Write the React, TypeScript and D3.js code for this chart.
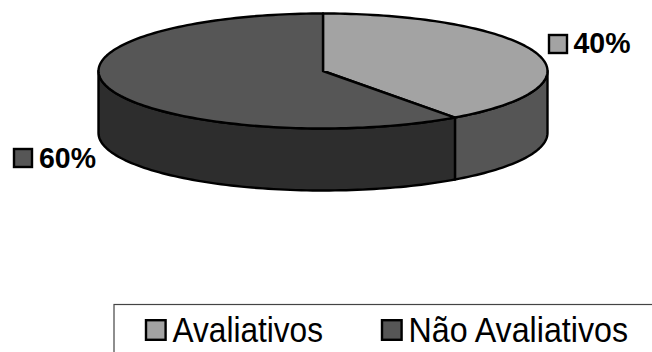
import React from "react";
import * as d3 from "d3";

const categories = ["Avaliativos", "Não Avaliativos"];
const shares = [40, 60];
const topColors = ["#a3a3a3", "#565656"];
const wallColors = ["#555555", "#2d2d2d"];

const cx = 323;
const cy = 71;
const rx = 224.5;
const ry = 57.5;
const depth = 62;
const font = "'Liberation Sans', Arial, sans-serif";

const slices = d3.pie<number>().sort(null)(shares);
const rimX = d3.scaleLinear().domain([-1, 1]).range([cx - rx, cx + rx]);
const rimY = d3.scaleLinear().domain([-1, 1]).range([cy - ry, cy + ry]);
const pathOf = d3.line<[number, number]>();

// Points along the rim between two pie angles, lowered by an optional offset.
function rim(a0: number, a1: number, dy = 0): [number, number][] {
  const steps = Math.max(2, Math.ceil(Math.abs(a1 - a0) * 40));
  return d3.range(steps + 1).map((i) => {
    const a = a0 + ((a1 - a0) * i) / steps;
    return [rimX(Math.sin(a)), rimY(-Math.cos(a)) + dy] as [number, number];
  });
}

function topPath(a0: number, a1: number): string {
  return pathOf([[cx, cy], ...rim(a0, a1)])! + "Z";
}

// Side wall: only the part of the rim facing the viewer (PI/2 to 3PI/2).
function wallPath(a0: number, a1: number): string | null {
  const s = Math.max(a0, Math.PI / 2);
  const e = Math.min(a1, (3 * Math.PI) / 2);
  if (e <= s) return null;
  return pathOf([...rim(s, e), ...rim(e, s, depth)])! + "Z";
}

function Swatch({ x, y, size, fill }: { x: number; y: number; size: number; fill: string }) {
  return <rect x={x} y={y} width={size} height={size} fill={fill} stroke="#000" strokeWidth={2.4} />;
}

export default function App() {
  return (
    <svg
      width={652}
      height={352}
      style={{ position: "fixed", left: 0, top: 0, background: "#fff" }}
    >
      {slices.map((s, i) => {
        const d = wallPath(s.startAngle, s.endAngle);
        return d ? (
          <path key={i} d={d} fill={wallColors[i]} stroke="#000" strokeWidth={2.4} strokeLinejoin="round" />
        ) : null;
      })}
      {slices.map((s, i) => (
        <path
          key={i}
          d={topPath(s.startAngle, s.endAngle)}
          fill={topColors[i]}
          stroke="#000"
          strokeWidth={2.4}
          strokeLinejoin="round"
        />
      ))}

      <Swatch x={549} y={35} size={18} fill={topColors[0]} />
      <text
        x={573.5}
        y={53}
        fontFamily={font}
        fontWeight="bold"
        fontSize={30}
        fill="#000"
        textLength={57}
        lengthAdjust="spacingAndGlyphs"
      >
        {shares[0]}%
      </text>
      <Swatch x={14} y={149} size={18} fill={topColors[1]} />
      <text
        x={39}
        y={167.5}
        fontFamily={font}
        fontWeight="bold"
        fontSize={30}
        fill="#000"
        textLength={57}
        lengthAdjust="spacingAndGlyphs"
      >
        {shares[1]}%
      </text>

      <rect x={114} y={304.5} width={600} height={80} fill="#fff" stroke="#444" strokeWidth={1.2} />
      <Swatch x={146} y={320.2} size={19.6} fill={topColors[0]} />
      <text
        x={172.5}
        y={342}
        fontFamily={font}
        fontSize={35}
        fill="#000"
        textLength={150.5}
        lengthAdjust="spacingAndGlyphs"
      >
        {categories[0]}
      </text>
      <Swatch x={382} y={320.2} size={19.6} fill={topColors[1]} />
      <text
        x={408.5}
        y={342}
        fontFamily={font}
        fontSize={35}
        fill="#000"
        textLength={219.5}
        lengthAdjust="spacingAndGlyphs"
      >
        {categories[1]}
      </text>
    </svg>
  );
}
